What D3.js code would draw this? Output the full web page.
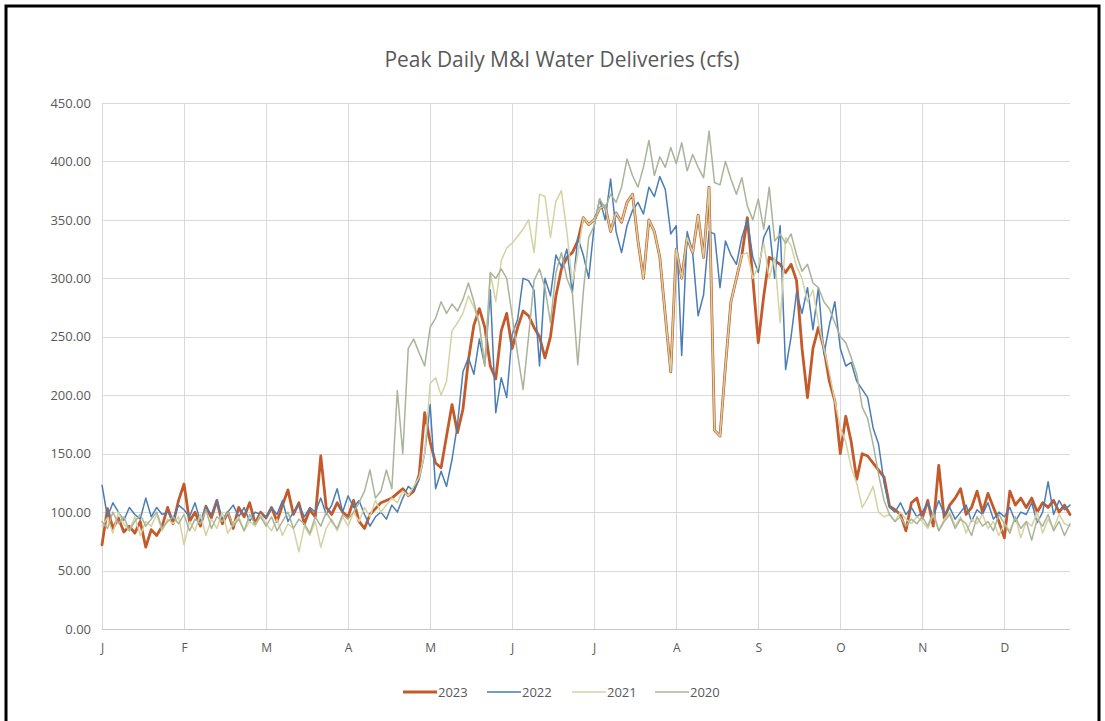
<!DOCTYPE html>
<html>
<head>
<meta charset="utf-8">
<script src="https://cdn.jsdelivr.net/npm/d3@7"></script>
<style>
  html, body { margin: 0; padding: 0; background: #fff; }
  svg { display: block; }
  text { font-family: "Open Sans", "Noto Sans", sans-serif; fill: #595959; }
</style>
</head>
<body>
<svg id="chart" width="1105" height="721"></svg>
<script>
// ---------- data (one value every 2 days) ----------
const title = "Peak Daily M&I Water Deliveries (cfs)";
const monthLabels = ["J", "F", "M", "A", "M", "J", "J", "A", "S", "O", "N", "D"];
const yTicks = [0, 50, 100, 150, 200, 250, 300, 350, 400, 450];
const seriesNames = ["2023", "2022", "2021", "2020"];

const v2023 = [
  72, 103, 86, 95, 83, 88, 82, 92, 70, 85, 80, 88, 104, 90, 110,
  124, 92, 100, 88, 105, 95, 110, 90, 100, 86, 104, 96, 108, 90, 100,
  95, 104, 92, 106, 119, 98, 108, 90, 102, 96, 148, 104, 98, 108, 100,
  96, 110, 92, 86, 98, 103, 108, 110, 112, 116, 120, 114, 118, 132, 185,
  160, 142, 138, 165, 192, 168, 188, 230, 260, 274, 258, 225, 214, 255, 270,
  240, 258, 272, 268, 258, 250, 232, 250, 285, 308, 318, 322, 332, 352, 346,
  350, 360, 362, 340, 356, 348, 365, 372, 332, 300, 350, 340, 318, 268, 220,
  325, 300, 335, 322, 354, 318, 378, 170, 165, 225, 280, 300, 320, 352, 300,
  245, 285, 318, 315, 312, 305, 312, 298, 240, 198, 240, 258, 240, 212, 195,
  150, 182, 160, 128, 150, 148, 142, 136, 130, 105, 102, 98, 84, 108, 112,
  95, 110, 88, 140, 95, 106, 112, 120, 98, 104, 118, 100, 116, 104, 92,
  78, 118, 106, 112, 104, 112, 100, 108, 104, 110, 100, 106, 98
];
const v2022 = [
  123, 96, 108, 100, 93, 104, 98, 94, 112, 96, 104, 98, 100, 94, 106,
  102, 96, 108, 92, 104, 98, 110, 94, 100, 106, 96, 104, 92, 100, 98,
  96, 104, 98, 110, 92, 100, 106, 96, 104, 100, 112, 98, 106, 120, 100,
  114, 104, 110, 98, 88, 96, 100, 94, 106, 100, 112, 122, 118, 128, 150,
  192, 120, 135, 122, 145, 175, 220, 232, 218, 248, 225, 290, 185, 215, 198,
  252, 265, 300, 298, 290, 225, 300, 285, 320, 310, 325, 288, 335, 320, 300,
  345, 368, 350, 385, 340, 322, 345, 358, 365, 355, 378, 370, 387, 376, 338,
  345, 234, 340, 322, 268, 286, 340, 338, 292, 332, 320, 312, 335, 350, 318,
  305, 335, 345, 300, 345, 222, 250, 288, 270, 292, 256, 292, 235, 260, 280,
  240, 225, 228, 212, 205, 198, 172, 158, 125, 104, 100, 108, 98, 104, 96,
  100, 108, 96, 110, 98, 104, 94, 100, 106, 92, 102, 98, 108, 94, 100,
  96, 104, 92, 100, 98, 108, 91, 100, 126, 98, 110, 102, 106
];
const v2021 = [
  88, 95, 82, 100, 90, 84, 96, 80, 92, 88, 98, 84, 94, 90, 96,
  72, 92, 84, 98, 80, 94, 86, 100, 82, 90, 96, 84, 92, 88, 98,
  90, 84, 94, 80, 90, 86, 66, 88, 80, 92, 70, 86, 94, 84, 96,
  88, 100, 92, 104, 96, 110, 100, 106, 112, 108, 118, 114, 122, 130, 150,
  210, 215, 200, 212, 255, 262, 270, 285, 275, 262, 225, 305, 280, 315, 326,
  330, 336, 342, 350, 322, 372, 370, 335, 366, 375, 340, 296, 320, 352, 346,
  350, 360, 362, 340, 356, 348, 365, 372, 332, 300, 350, 340, 318, 268, 220,
  325, 300, 335, 322, 354, 318, 378, 170, 165, 225, 280, 300, 320, 322, 300,
  310, 330, 300, 318, 262, 335, 328, 310, 300, 280, 290, 262, 240, 220, 195,
  172, 160, 138, 125, 104, 112, 122, 100, 96, 98, 92, 100, 94, 90, 96,
  92, 86, 98, 84, 94, 100, 88, 96, 82, 94, 90, 98, 86, 92, 80,
  90, 84, 96, 78, 92, 88, 100, 82, 94, 86, 98, 90, 88
];
const v2020 = [
  92, 86, 100, 90, 96, 84, 92, 98, 88, 94, 100, 86, 92, 96, 90,
  98, 84, 94, 90, 102, 86, 96, 92, 100, 88, 94, 84, 98, 90, 96,
  88, 96, 84, 92, 100, 86, 94, 90, 82, 96, 88, 100, 92, 86, 98,
  94, 100, 108, 118, 136, 112, 118, 136, 120, 204, 150, 240, 248, 236, 225,
  258, 266, 280, 270, 278, 272, 282, 296, 280, 260, 226, 305, 300, 308, 300,
  268, 235, 205, 250, 298, 308, 292, 262, 305, 322, 300, 288, 226, 288, 335,
  345, 368, 360, 372, 365, 378, 402, 388, 378, 395, 418, 388, 404, 395, 412,
  398, 416, 392, 406, 395, 386, 426, 382, 380, 400, 385, 372, 386, 362, 350,
  368, 342, 378, 332, 338, 330, 338, 320, 306, 312, 296, 292, 280, 274, 262,
  250, 245, 232, 218, 190, 180, 158, 132, 110, 98, 92, 96, 88, 94, 90,
  96, 88, 100, 84, 92, 98, 86, 94, 90, 80, 96, 88, 92, 84, 98,
  90, 82, 96, 86, 92, 76, 94, 88, 98, 84, 92, 80, 90
];
const dayStep = 2;      // one value per two days
const monthStep = 30;   // category ticks every 30 days

// ---------- layout ----------
const svg = d3.select("#chart");
const W = 1105, H = 721;
const plot = { left: 102, right: 1070, top: 103, bottom: 629 };

const seriesValues = [v2023, v2022, v2021, v2020];
const colors = ["#C45A2A", "#4A7DB5", "#D6D2A2", "#A9B49A"];
const widths = [2.8, 1.5, 1.5, 1.5];

const nPts = v2023.length;
const x = d3.scaleLinear().domain([0, (nPts - 1) * dayStep]).range([plot.left, plot.right]);
const y = d3.scaleLinear().domain([0, 450]).range([plot.bottom, plot.top]);

// outer frame
svg.append("rect").attr("x", 6).attr("y", 6).attr("width", 1093).attr("height", 740)
  .attr("fill", "#fff").attr("stroke", "#000").attr("stroke-width", 3);

// title
const t = svg.append("text").attr("x", 562).attr("y", 67).attr("text-anchor", "middle")
  .style("font-size", "18px").text(title);
const tw = t.node().getComputedTextLength();
t.style("font-size", (18 * 355 / tw) + "px");

// horizontal gridlines
const monthDays = monthLabels.map((m, i) => i * monthStep);
svg.append("g").selectAll("line").data(yTicks.filter(v => v > 0)).join("line")
  .attr("x1", plot.left).attr("x2", plot.right)
  .attr("y1", d => Math.round(y(d)) + 0.5).attr("y2", d => Math.round(y(d)) + 0.5)
  .attr("stroke", "#d9d9d9").attr("stroke-width", 1);
// vertical gridlines at months
svg.append("g").selectAll("line").data(monthDays).join("line")
  .attr("x1", d => Math.round(x(d)) + 0.5).attr("x2", d => Math.round(x(d)) + 0.5)
  .attr("y1", plot.top).attr("y2", plot.bottom)
  .attr("stroke", "#d9d9d9").attr("stroke-width", 1);
// right edge gridline not present; x axis line
svg.append("line").attr("x1", plot.left).attr("x2", plot.right)
  .attr("y1", Math.round(y(0)) + 0.5).attr("y2", Math.round(y(0)) + 0.5)
  .attr("stroke", "#c8c8c8").attr("stroke-width", 1);

// y axis labels
const yAxis = d3.axisLeft(y).tickValues(yTicks).tickFormat(d3.format(".2f")).tickSize(0).tickPadding(11);
const yg = svg.append("g").attr("transform", `translate(${plot.left},0)`).call(yAxis);
yg.select(".domain").remove();
yg.selectAll("text").style("font-size", "13px").style("fill", "#595959")
  .style("font-family", "'Open Sans', 'Noto Sans', sans-serif");

// x axis labels
const xAxis = d3.axisBottom(x).tickValues(monthDays).tickFormat((d, i) => monthLabels[i]).tickSize(0).tickPadding(14);
const xg = svg.append("g").attr("transform", `translate(0,${plot.bottom})`).call(xAxis);
xg.select(".domain").remove();
xg.selectAll("text").style("font-size", "12px").style("fill", "#595959")
  .style("font-family", "'Open Sans', 'Noto Sans', sans-serif");

// lines
const line = d3.line().x((d, i) => x(i * dayStep)).y(d => y(d));
svg.append("g").selectAll("path").data(seriesValues).join("path")
  .attr("d", d => line(d))
  .attr("fill", "none")
  .attr("stroke", (d, i) => colors[i])
  .attr("stroke-width", (d, i) => widths[i])
  .attr("stroke-linejoin", "round")
  .attr("stroke-linecap", "round");

// legend
const legendX = [403, 487, 572, 655];
const lg = svg.append("g");
seriesNames.forEach((name, i) => {
  lg.append("line").attr("x1", legendX[i]).attr("x2", legendX[i] + 34)
    .attr("y1", 692).attr("y2", 692)
    .attr("stroke", colors[i]).attr("stroke-width", widths[i]);
  lg.append("text").attr("x", legendX[i] + 35).attr("y", 697)
    .style("font-size", "13px").text(name);
});
</script>
</body>
</html>
